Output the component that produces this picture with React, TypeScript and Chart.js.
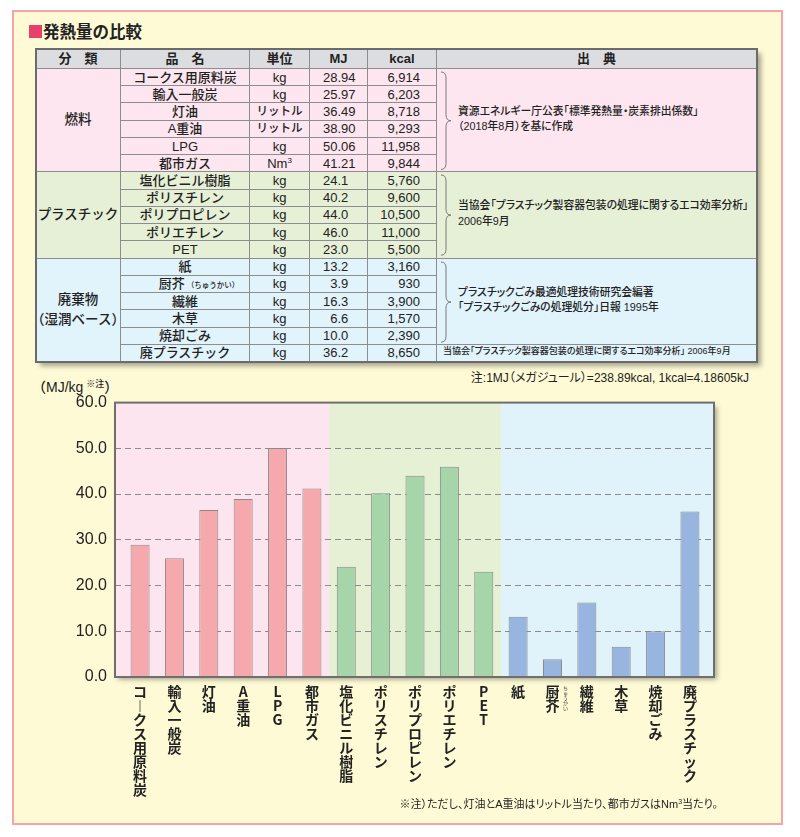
import React, { useEffect, useRef } from "react";
import { Chart, registerables } from "chart.js";
Chart.register(...registerables);

// ---- data ----
const groups = ["燃料", "プラスチック", "廃棄物\n（湿潤ベース）"];
const groupSizes = [6, 5, 6];
const categories = [
  "コークス用原料炭", "輸入一般炭", "灯油", "A重油", "LPG", "都市ガス",
  "塩化ビニル樹脂", "ポリスチレン", "ポリプロピレン", "ポリエチレン", "PET",
  "紙", "厨芥", "繊維", "木草", "焼却ごみ", "廃プラスチック",
];
const units = [
  "kg", "kg", "リットル", "リットル", "kg", "Nm³",
  "kg", "kg", "kg", "kg", "kg",
  "kg", "kg", "kg", "kg", "kg", "kg",
];
const mjValues = [
  28.94, 25.97, 36.49, 38.90, 50.06, 41.21,
  24.1, 40.2, 44.0, 46.0, 23.0,
  13.2, 3.9, 16.3, 6.6, 10.0, 36.2,
];
const kcalValues = [
  "6,914", "6,203", "8,718", "9,293", "11,958", "9,844",
  "5,760", "9,600", "10,500", "11,000", "5,500",
  "3,160", "930", "3,900", "1,570", "2,390", "8,650",
];
const sources = [
  { rows: 6, lines: ["資源エネルギー庁公表「標準発熱量・炭素排出係数」", "（2018年8月）を基に作成"], brace: true, small: false },
  { rows: 5, lines: ["当協会「プラスチック製容器包装の処理に関するエコ効率分析」", "2006年9月"], brace: true, small: false },
  { rows: 5, lines: ["プラスチックごみ最適処理技術研究会編著", "「プラスチックごみの処理処分」日報 1995年"], brace: true, small: false },
  { rows: 1, lines: ["当協会「プラスチック製容器包装の処理に関するエコ効率分析」 2006年9月"], brace: false, small: true },
];
const yTicks = [0, 10, 20, 30, 40, 50, 60];
const headers = ["分　類", "品　名", "単位", "MJ", "kcal", "出　典"];

// ---- styles ----
const bandColors = ["#fde5ef", "#e5f0d5", "#e0f3fb"];
const barColors = ["#f6a9ac", "#a6d5a9", "#97b5de"];
const rowColors = ["#fde6ef", "#e6f0d6", "#e1f3fb"];
const JP = "'Liberation Sans', 'Noto Sans CJK JP', sans-serif";
const xMin = -0.73;
const xMax = 16.7;

const colX = [36, 121, 250, 310, 368, 437, 757];
const headTop = 49;
const bodyTop = 69;
const rowH = (362 - 69) / 17;
const lineC = "#8d8d8d";

const groupOf = (i: number) => {
  let s = 0;
  for (let g = 0; g < groupSizes.length; g++) {
    s += groupSizes[g];
    if (i < s) return g;
  }
  return groupSizes.length - 1;
};

function Cell(props: { x0: number; x1: number; y0: number; y1: number; bg: string; children?: any; style?: any }) {
  const { x0, x1, y0, y1, bg, children, style } = props;
  return (
    <div
      style={{
        position: "absolute",
        left: x0 - colX[0],
        top: y0 - headTop,
        width: x1 - x0,
        height: y1 - y0,
        boxSizing: "border-box",
        borderRight: `1px solid ${lineC}`,
        borderBottom: `1px solid ${lineC}`,
        background: bg,
        display: "flex",
        alignItems: "center",
        justifyContent: "center",
        fontSize: 12.5,
        fontWeight: 500,
        color: "#222",
        lineHeight: 1,
        whiteSpace: "pre",
        ...style,
      }}
    >
      {children}
    </div>
  );
}

function Brace({ h }: { h: number }) {
  const m = h / 2;
  const d = `M2,3 Q7,3 7,9 L7,${m - 6} Q7,${m} 12,${m} Q7,${m} 7,${m + 6} L7,${h - 9} Q7,${h - 3} 2,${h - 3}`;
  return (
    <svg width={14} height={h} style={{ position: "absolute", left: 2, top: 0 }}>
      <path d={d} fill="none" stroke="#7a7a7a" strokeWidth={1} />
    </svg>
  );
}

function DataTable() {
  const cells: any[] = [];
  headers.forEach((h, c) => {
    cells.push(
      <Cell key={"h" + c} x0={colX[c]} x1={colX[c + 1]} y0={headTop} y1={bodyTop} bg="#dcdde1" style={{ fontWeight: 700, fontSize: 13 }}>
        {h}
      </Cell>
    );
  });
  let start = 0;
  groupSizes.forEach((n, g) => {
    cells.push(
      <Cell key={"g" + g} x0={colX[0]} x1={colX[1]} y0={bodyTop + start * rowH} y1={bodyTop + (start + n) * rowH} bg={rowColors[g]} style={{ textAlign: "center", lineHeight: 1.45, fontSize: 13.5 }}>
        {groups[g]}
      </Cell>
    );
    start += n;
  });
  categories.forEach((name, i) => {
    const g = groupOf(i);
    const y0 = bodyTop + i * rowH;
    const y1 = y0 + rowH;
    const bg = rowColors[g];
    const mj = g === 0 ? mjValues[i].toFixed(2) : mjValues[i].toFixed(1);
    cells.push(
      <Cell key={"n" + i} x0={colX[1]} x1={colX[2]} y0={y0} y1={y1} bg={bg} style={{ fontSize: 13 }}>
        {name === "厨芥" ? (
          <span style={{ position: "relative", left: 14 }}>
            厨芥<span style={{ fontSize: 7.5, marginLeft: 2 }}>（ちゅうかい）</span>
          </span>
        ) : (
          name
        )}
      </Cell>
    );
    cells.push(
      <Cell key={"u" + i} x0={colX[2]} x1={colX[3]} y0={y0} y1={y1} bg={bg} style={{ fontSize: units[i] === "リットル" ? 11.5 : 13 }}>
        {units[i] === "Nm³" ? (
          <span>
            Nm<sup style={{ fontSize: 8, verticalAlign: 5 }}>3</sup>
          </span>
        ) : (
          units[i]
        )}
      </Cell>
    );
    cells.push(
      <Cell key={"m" + i} x0={colX[3]} x1={colX[4]} y0={y0} y1={y1} bg={bg} style={{ justifyContent: "flex-start", paddingLeft: 13, fontSize: 13 }}>
        {(mjValues[i] < 10 ? "\u2007" : "") + mj}
      </Cell>
    );
    cells.push(
      <Cell key={"k" + i} x0={colX[4]} x1={colX[5]} y0={y0} y1={y1} bg={bg} style={{ justifyContent: "flex-end", paddingRight: 16, fontSize: 13 }}>
        {kcalValues[i]}
      </Cell>
    );
  });
  let r = 0;
  sources.forEach((s, k) => {
    const g = groupOf(r);
    const y0 = bodyTop + r * rowH;
    const y1 = bodyTop + (r + s.rows) * rowH;
    cells.push(
      <Cell
        key={"s" + k}
        x0={colX[5]}
        x1={colX[6]}
        y0={y0}
        y1={y1}
        bg={rowColors[g]}
        style={{
          justifyContent: "flex-start",
          paddingLeft: s.small ? 6 : 21,
          fontSize: s.small ? 9 : 10.8,
          lineHeight: 1.45,
          fontFeatureSettings: "'palt'",
          position: "absolute",
        }}
      >
        {s.brace ? <Brace h={y1 - y0} /> : null}
        <div style={{ marginTop: -2 }}>{s.lines.join("\n")}</div>
      </Cell>
    );
    r += s.rows;
  });

  return (
    <div
      style={{
        position: "absolute",
        left: colX[0],
        top: headTop,
        width: colX[6] - colX[0],
        height: 362 - headTop,
        boxShadow: "4px 4px 5px rgba(0,0,0,0.35)",
        fontFamily: JP,
      }}
    >
      {cells}
      <div
        style={{
          position: "absolute",
          left: -1,
          top: -1,
          right: -1,
          bottom: -1,
          border: "2px solid #6b6b6b",
          pointerEvents: "none",
        }}
      />
    </div>
  );
}

const bandsPlugin = {
  id: "bands",
  beforeDraw(chart: any) {
    const { ctx, chartArea: a, scales } = chart;
    const x = scales.x;
    ctx.save();
    ctx.shadowColor = "rgba(0,0,0,0.35)";
    ctx.shadowBlur = 5;
    ctx.shadowOffsetX = 3;
    ctx.shadowOffsetY = 3;
    ctx.fillStyle = "#ffffff";
    ctx.fillRect(a.left, a.top, a.width, a.height);
    ctx.restore();
    let start = 0;
    groupSizes.forEach((n, g) => {
      const end = start + n - 1;
      const x0 = start === 0 ? a.left : x.getPixelForValue(start - 0.5);
      const x1 = end === categories.length - 1 ? a.right : x.getPixelForValue(end + 0.5);
      ctx.fillStyle = bandColors[g];
      ctx.fillRect(x0, a.top, x1 - x0, a.height);
      start += n;
    });
  },
  afterDatasetsDraw(chart: any) {
    const { ctx, chartArea: a } = chart;
    ctx.save();
    ctx.lineWidth = 2;
    ctx.strokeStyle = "#6f6f6f";
    ctx.strokeRect(a.left, a.top, a.width, a.height);
    ctx.restore();
  },
  afterDraw(chart: any) {
    const { ctx, scales } = chart;
    const idx = categories.indexOf("厨芥");
    const px = scales.x.getPixelForValue(idx) + 13;
    const py = chart.chartArea.bottom + 9;
    ctx.save();
    ctx.font = "5px 'Noto Sans CJK JP'";
    ctx.fillStyle = "#333";
    ctx.textAlign = "center";
    ctx.textBaseline = "top";
    Array.from("ちゅうかい").forEach((ch, k) => ctx.fillText(ch, px, py + k * 5));
    ctx.restore();
  },
};

function BarChart() {
  const ref = useRef<HTMLCanvasElement | null>(null);
  useEffect(() => {
    if (!ref.current) return;
    const labelLines = categories.map((c) => Array.from(c).map((ch) => (ch === "ー" ? "︱" : ch)));
    const chart = new Chart(ref.current, {
      type: "bar",
      data: {
        datasets: [
          {
            data: mjValues.map((v, i) => ({ x: i, y: v })),
            backgroundColor: mjValues.map((_, i) => barColors[groupOf(i)]),
            borderColor: "#8a8a8a",
            borderWidth: 1,
            barPercentage: 0.553,
            categoryPercentage: 1,
          },
        ],
      },
      options: {
        animation: false,
        responsive: false,
        devicePixelRatio: 1,
        layout: { padding: { left: 0, right: 26, top: 11, bottom: 0 } },
        plugins: { legend: { display: false }, tooltip: { enabled: false } },
        scales: {
          x: {
            type: "linear",
            offset: false,
            min: xMin,
            max: xMax,
            afterBuildTicks: (s: any) => {
              s.ticks = categories.map((_, i) => ({ value: i }));
            },
            grid: { display: false, drawTicks: false },
            border: { display: false },
            ticks: {
              autoSkip: false,
              maxRotation: 0,
              minRotation: 0,
              padding: 8,
              color: "#222",
              font: { family: "'Noto Sans CJK JP', sans-serif", size: 14, weight: "bold", lineHeight: 1 },
              callback: (v: any) => labelLines[Math.round(Number(v))] ?? "",
            },
            afterFit: (s: any) => {
              s.height = 135;
            },
          },
          y: {
            min: yTicks[0],
            max: yTicks[yTicks.length - 1],
            afterBuildTicks: (s: any) => {
              s.ticks = yTicks.map((v) => ({ value: v }));
            },
            grid: { color: "#8a8a8a", lineWidth: 1, drawTicks: false },
            border: { display: false, dash: [6, 4] },
            ticks: {
              padding: 8,
              color: "#222",
              font: { family: "'Liberation Sans', Arial, sans-serif", size: 16 },
              callback: (v: any) => Number(v).toFixed(1),
            },
            afterFit: (s: any) => {
              s.width = 75;
            },
          },
        },
      },
      plugins: [bandsPlugin],
    } as any);
    return () => chart.destroy();
  }, []);
  return <canvas ref={ref} width={700} height={427} style={{ position: "absolute", left: 40, top: 385, display: "block" }} />;
}

export default function App() {
  return (
    <div style={{ position: "absolute", left: 0, top: 0, width: 800, height: 837, background: "#fff", fontFamily: JP, color: "#222" }}>
      <div
        style={{
          position: "absolute",
          left: 12,
          top: 10,
          width: 771,
          height: 815,
          boxSizing: "border-box",
          background: "#fffad6",
          border: "2px solid #f4a6a6",
        }}
      />
      <div style={{ position: "absolute", left: 29, top: 20, fontSize: 16.5, fontWeight: 700, fontFamily: "'Noto Sans CJK JP', sans-serif", lineHeight: "22px", display: "flex", alignItems: "center" }}>
        <span style={{ display: "inline-block", width: 13, height: 13, background: "#e8406a", marginRight: 1 }} />
        発熱量の比較
      </div>
      <DataTable />
      <div style={{ position: "absolute", right: 800 - 749, top: 370, fontSize: 12, lineHeight: "16px", whiteSpace: "nowrap", fontFeatureSettings: "'palt'" }}>
        注:1MJ（メガジュール）=238.89kcal, 1kcal=4.18605kJ
      </div>
      <div style={{ position: "absolute", left: 32, top: 375, fontSize: 14, lineHeight: "18px", whiteSpace: "nowrap", fontWeight: 500 }}>
        （MJ/kg<sup style={{ fontSize: 9, verticalAlign: 5, marginLeft: 3 }}>※注</sup>）
      </div>
      <BarChart />
      <div style={{ position: "absolute", right: 800 - 718, top: 794, fontSize: 11, lineHeight: "16px", whiteSpace: "nowrap", fontFeatureSettings: "'palt'" }}>
        ※注）ただし、灯油とA重油はリットル当たり、都市ガスはNm<sup style={{ fontSize: 7, verticalAlign: 4 }}>3</sup>当たり。
      </div>
    </div>
  );
}
